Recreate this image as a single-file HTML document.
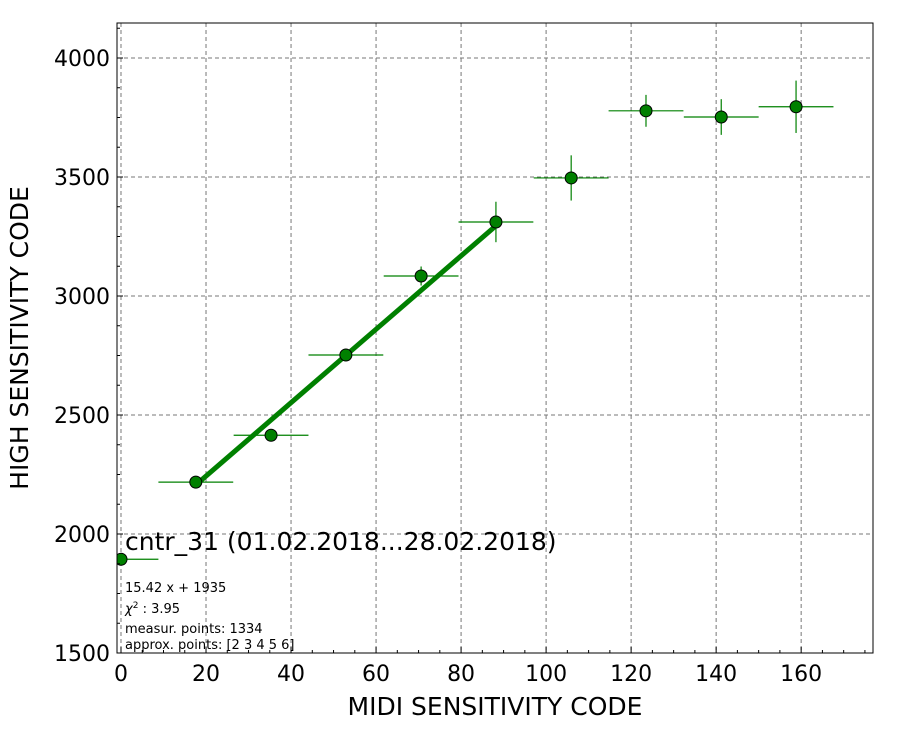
<!DOCTYPE html>
<html><head><meta charset="utf-8"><style>
body{margin:0;background:#fff;}
svg{display:block;font-family:"DejaVu Sans","Liberation Sans",sans-serif;}
</style></head><body>
<svg id="chart" width="900" height="750">
<defs><clipPath id="clip"><rect x="117" y="23" width="756" height="630"/></clipPath></defs>
<rect x="0" y="0" width="900" height="750" fill="#fff"/>
<g id="grid"></g>
<g id="fit" clip-path="url(#clip)"></g>
<g id="pts" clip-path="url(#clip)"></g>
<rect x="117" y="23" width="756" height="630" fill="none" stroke="#000" stroke-width="1"/>
<g id="axes"></g>
<text x="125" y="550" font-size="25" fill="#000">cntr_31 (01.02.2018...28.02.2018)</text>
<text x="125" y="592" font-size="13">15.42 x + 1935</text>
<text x="125" y="613" font-size="13"><tspan font-style="italic">χ</tspan><tspan dy="-5" font-size="9">2</tspan><tspan dy="5"> : 3.95</tspan></text>
<text x="125" y="633" font-size="13">measur. points: 1334</text>
<text x="125" y="649" font-size="13">approx. points: [2 3 4 5 6]</text>
<text x="495" y="715" font-size="25" text-anchor="middle">MIDI SENSITIVITY CODE</text>
<text x="28" y="338" font-size="25" text-anchor="middle" transform="rotate(-90 28 338)">HIGH SENSITIVITY CODE</text>
</svg>
<script>
const xValues=[0,17.6,35.3,52.9,70.6,88.2,105.9,123.5,141.2,158.8];
const yValues=[1894,2218,2415,2752,3084,3311,3496,3778,3752,3795];
const xErrors=[8.8,8.8,8.8,8.8,8.8,8.8,8.8,8.8,8.8,8.8];
const yErrors=[5,15,20,22,40,85,95,67,75,110];
const xTicks=[0,20,40,60,80,100,120,140,160];
const yTicks=[1500,2000,2500,3000,3500,4000];
const fitSlope=15.42, fitIntercept=1935, fitRange=[17.6,88.2];
const NS='http://www.w3.org/2000/svg';
const X0=117,X1=873,Y0=653,Y1=23,xmin=-0.94,xmax=176.9,ymin=1500,ymax=4147;
const sx=v=>X0+(v-xmin)/(xmax-xmin)*(X1-X0);
const sy=v=>Y0-(v-ymin)/(ymax-ymin)*(Y0-Y1);
function mk(t,a,p){const e=document.createElementNS(NS,t);for(const k in a)e.setAttribute(k,a[k]);p.appendChild(e);return e;}
const grid=document.getElementById('grid'),axes=document.getElementById('axes');
xTicks.forEach(t=>{
 const l=mk('line',{x1:sx(t),x2:sx(t),y1:Y1,y2:Y0,stroke:'#777','stroke-dasharray':'4,3','stroke-width':1},grid);
 
 
 const k=mk('line',{x1:sx(t),x2:sx(t),y1:Y0,y2:Y0-6,stroke:'#000'},axes);
 
 
 const tx=mk('text',{x:sx(t),y:681,'font-size':22,'text-anchor':'middle'},axes);tx.textContent=t;
 
 
});
for(let m=0;m<=175;m+=5){if(m%20===0)continue;
 const k=mk('line',{x1:sx(m),x2:sx(m),y1:Y0,y2:Y0-3,stroke:'#000'},axes);
 
 }
yTicks.forEach(t=>{
 if(t>ymin){const l=mk('line',{x1:X0,x2:X1,y1:sy(t),y2:sy(t),stroke:'#777','stroke-dasharray':'4,3','stroke-width':1},grid);
 
 }
 const k=mk('line',{x1:X0,x2:X0+6,y1:sy(t),y2:sy(t),stroke:'#000'},axes);
 
 
 const tx=mk('text',{x:110,y:sy(t)+8,'font-size':22,'text-anchor':'end'},axes);tx.textContent=t;
 
 
});
for(let m=1500;m<=4125;m+=125){if(m%500===0)continue;
 const k=mk('line',{x1:X0,x2:X0+3,y1:sy(m),y2:sy(m),stroke:'#000'},axes);
 
 }
const fit=document.getElementById('fit');
const fl=mk('line',{x1:sx(fitRange[0]),y1:sy(fitSlope*fitRange[0]+fitIntercept),x2:sx(fitRange[1]),y2:sy(fitSlope*fitRange[1]+fitIntercept),stroke:'#008000','stroke-width':5},fit);


const pts=document.getElementById('pts');
xValues.forEach((x,i)=>{
 const y=yValues[i];
 const g=mk('g',{},pts);
 
 
 mk('line',{x1:sx(x-xErrors[i]),x2:sx(x+xErrors[i]),y1:sy(y),y2:sy(y),stroke:'#008000','stroke-width':1.2},g);
 mk('line',{x1:sx(x),x2:sx(x),y1:sy(y-yErrors[i]),y2:sy(y+yErrors[i]),stroke:'#008000','stroke-width':1.2},g);
 mk('circle',{cx:sx(x),cy:sy(y),r:6,fill:'#008000',stroke:'#000','stroke-width':1},g);
});
</script>
</body></html>
